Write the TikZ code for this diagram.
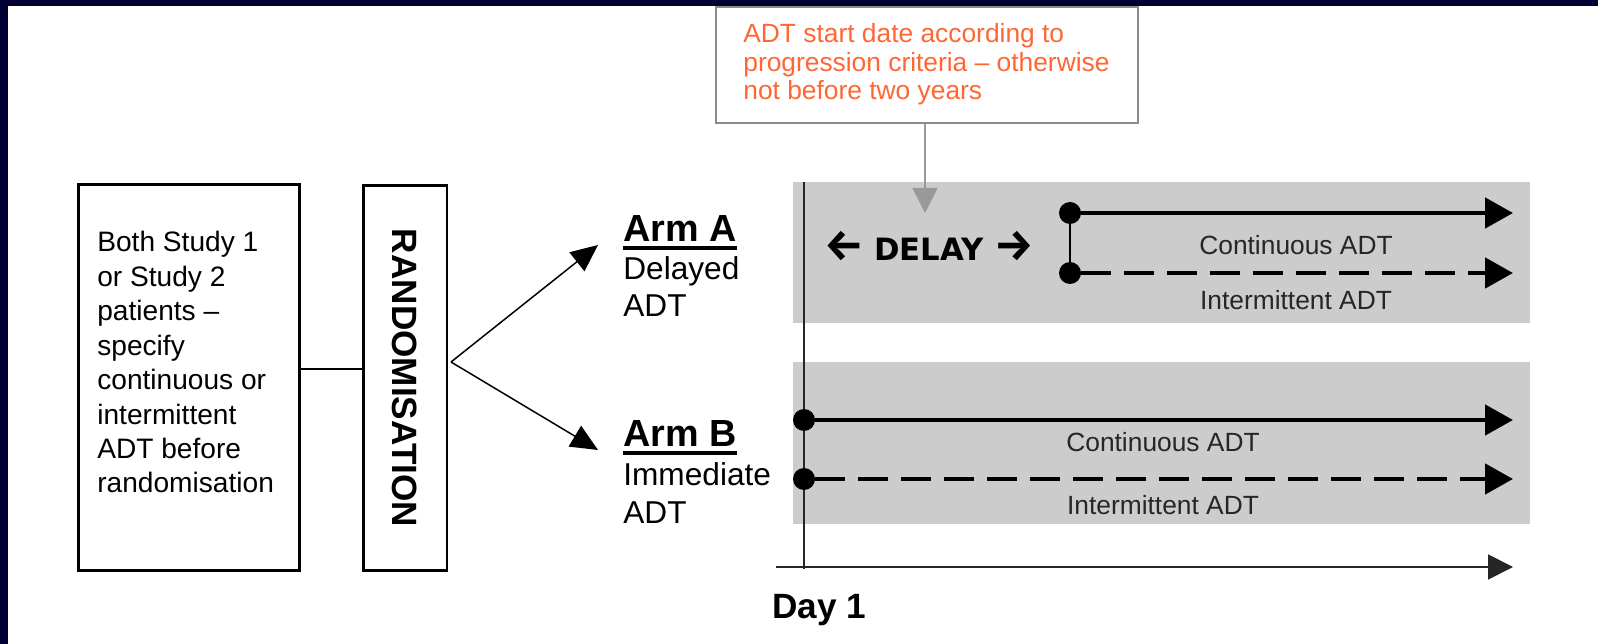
\documentclass[tikz,border=0pt]{standalone}
\usepackage{fontspec}
\setmainfont{Liberation Sans}
\newfontfamily\delayfont{DejaVu Sans}
\newfontfamily\arrowfont{Fira Sans}
\usetikzlibrary{arrows.meta}
\definecolor{navyband}{RGB}{0,0,50}
\definecolor{noteorange}{RGB}{255,102,51}
\definecolor{panelgray}{RGB}{204,204,204}
\begin{document}
\begin{tikzpicture}[x=0.02cm,y=-0.02cm]
    \tikzstyle{box}=[draw,line width=1.7pt,inner sep=0pt]
    \tikzstyle{dot}=[circle,fill,inner sep=0pt,minimum size=0.44cm]
    \tikzstyle{treat}=[line width=2.7pt,-{Triangle[length=0.56cm,width=0.6cm]}]
    \tikzstyle{lbl}=[inner sep=0pt,anchor=base,text=black!85,font=\fontsize{15}{18}\selectfont]
    \tikzstyle{armtitle}=[inner sep=0pt,anchor=base west,font=\fontsize{21.5}{26}\selectfont\bfseries]
    \tikzstyle{armtext}=[inner sep=0pt,anchor=base west,align=left,font=\fontsize{18}{21.5}\selectfont]
      \useasboundingbox (0,0) rectangle (1598,644);
      \fill[navyband] (0,0) rectangle (1598,6);
      \fill[navyband] (0,0) rectangle (8,644);

      % grey panels
      \fill[panelgray] (793,182) rectangle (1530,323);
      \fill[panelgray] (793,362) rectangle (1530,524);

      % patients and randomisation (base = last line)
      \node (P) at (189,377.5) [box,minimum width=4.44cm,minimum height=7.74cm] {};
      \node (Ptext) at (97,493) [inner sep=0pt,anchor=base west,align=left,
        font=\fontsize{16}{19.6}\selectfont] {Both Study 1\\or Study 2\\patients --\\specify\\continuous or\\intermittent\\ADT before\\randomisation};
      \node (R) at (405,378) [box,minimum width=1.68cm,minimum height=7.72cm] {};
      \node at (R.center) [rotate=-90,font=\fontsize{20}{24}\selectfont\bfseries] {RANDOMISATION};
      \draw[line width=1.4pt] (P.east |- 0,369) -- (R.west |- 0,369);

      % arms
      \coordinate (F) at (451,362);
      \coordinate (tipA) at (598,245);
      \coordinate (tipB) at (598,450);
      \draw[line width=0.85pt,-{Triangle[length=0.54cm,width=0.48cm]}] (F) -- (tipA);
      \draw[line width=0.85pt,-{Triangle[length=0.54cm,width=0.48cm]}] (F) -- (tipB);

      \node (armA) at (623,242) [armtitle] {Arm A};
      \draw[line width=2.2pt] ([yshift=-0.12cm]armA.south west) -- ([yshift=-0.12cm]armA.south east);
      \node (armAtext) at (623,317) [armtext] {Delayed\\ADT};
      \node (armB) at (623,447) [armtitle] {Arm B};
      \draw[line width=2.2pt] ([yshift=-0.12cm]armB.south west) -- ([yshift=-0.12cm]armB.south east);
      \node (armBtext) at (623,523) [armtext] {Immediate\\ADT};

      % time axis and day 1
      \coordinate (dayTop) at (804,182);
      \coordinate (dayBot) at (804,569);
      \coordinate (axisL) at (776,567);
      \coordinate (axisR) at (1513,567);
      \draw[line width=1.1pt,black!85] (dayTop) -- (dayBot);
      \draw[line width=1.1pt,black!85,-{Triangle[length=0.5cm,width=0.5cm]}] (axisL) -- (axisR);
      \node (day) at (772,618) [inner sep=0pt,anchor=base west,font=\fontsize{20}{24}\selectfont\bfseries] {Day 1};

      % arm A treatment
      \node (a1) at (1070,213) [dot] {};
      \node (a2) at (1070,273) [dot] {};
      \coordinate (a1end) at (1513,213);
      \coordinate (a2end) at (1513,273);
      \draw[line width=1.1pt] (a1) -- (a2);
      \draw[treat] (a1) -- (a1end);
      \draw[treat,dash pattern=on 0.6cm off 0.26cm] (a2) -- (a2end);
      \node at (1296,255) [lbl] {Continuous ADT};
      \node at (1296,310) [lbl] {Intermittent ADT};
      \node (delay) at (929,261) [inner sep=0pt,anchor=base,font=\delayfont\fontsize{17.5}{21}\selectfont\bfseries]
        {{\arrowfont\fontsize{25}{25}\selectfont\bfseries ←} DELAY {\arrowfont\fontsize{25}{25}\selectfont\bfseries →}};

      % arm B treatment
      \node (b1) at (804,420) [dot] {};
      \node (b2) at (804,479) [dot] {};
      \coordinate (b1end) at (1513,420);
      \coordinate (b2end) at (1513,479);
      \draw[treat] (b1) -- (b1end);
      \draw[treat,dash pattern=on 0.6cm off 0.26cm] (b2) -- (b2end);
      \node at (1163,452) [lbl] {Continuous ADT};
      \node at (1163,515) [lbl] {Intermittent ADT};

      % note on start date
      \node (note) at (927,65) [draw=black!45,line width=0.8pt,minimum width=8.44cm,minimum height=2.32cm] {};
      \node (notetext) at (743,100) [inner sep=0pt,anchor=base west,align=left,text=noteorange,
        font=\fontsize{15}{16.4}\selectfont] {ADT start date according to\\progression criteria -- otherwise\\not before two years};
      \coordinate (noteTip) at (925,213);
      \draw[black!40,line width=0.9pt,-{Triangle[length=0.5cm,width=0.5cm]}] (note.south -| noteTip) -- (noteTip);
\end{tikzpicture}
\end{document}
